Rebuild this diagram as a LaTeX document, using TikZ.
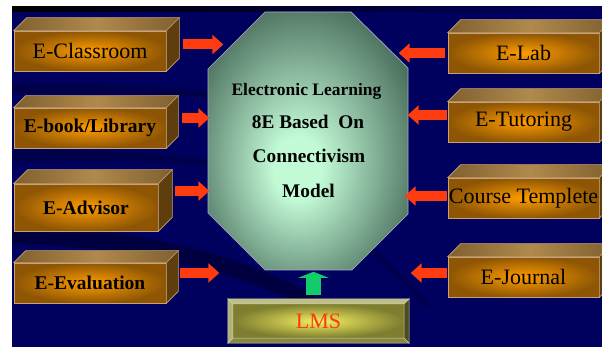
\documentclass[tikz,border=0pt]{standalone}
\usepackage{fontspec}
\setmainfont{Liberation Serif}
\usetikzlibrary{calc,arrows.meta}
\definecolor{navy}{HTML}{00005E}
\definecolor{orangein}{HTML}{FF9C00}
\definecolor{orangeout}{HTML}{8E5604}
\definecolor{edgetan}{HTML}{C8A278}
\definecolor{toplight}{HTML}{B08A4C}
\definecolor{topdark}{HTML}{806030}
\definecolor{sidebrown}{HTML}{5E3E0C}
\definecolor{arrred}{HTML}{FF3C10}
\definecolor{arrgreen}{HTML}{10CC6A}
\definecolor{octin}{HTML}{C2FAD6}
\definecolor{octout}{HTML}{4C705E}
\definecolor{octedge}{HTML}{A8AEC8}
\definecolor{lmsin}{HTML}{F4F060}
\definecolor{lmsout}{HTML}{7E7E30}
\definecolor{bevtop}{HTML}{BEBE8A}
\definecolor{bevleft}{HTML}{B2B27C}
\definecolor{bevbot}{HTML}{888840}
\definecolor{bevright}{HTML}{4C4C1E}
\definecolor{lmsred}{HTML}{FF3A10}
\pgfdeclareradialshading{octshade}{\pgfpoint{-3bp}{-6bp}}{color(0bp)=(octin); color(6bp)=(octin); color(30bp)=(octout); color(50bp)=(octout)}
\newcommand\mkbox[8][]{%
  \node[frontface,minimum width=#5pt,minimum height=#6pt,#1] (#2) at (#3,#4) {#8};
  \path[topface] (#2.north west) -- ++(#7,-#7) -- ($(#2.north east)+(#7,-#7)$) -- (#2.north east) -- cycle;
  \path[sideface] (#2.north east) -- ++(#7,-#7) -- ($(#2.south east)+(#7,-#7)$) -- (#2.south east) -- cycle;
}
\begin{document}
\begin{tikzpicture}[x=1pt,y=-1pt,
  frontface/.style={draw=edgetan, line width=0.6pt, inner color=orangein, outer color=orangeout, inner sep=0pt, text=black, font=\fontsize{22}{24}\selectfont},
  boldtxt/.style={font=\bfseries\fontsize{19.5}{22}\selectfont},
  topface/.style={draw=edgetan, line width=0.6pt, left color=topdark, right color=topdark, middle color=toplight},
  sideface/.style={draw=edgetan, line width=0.6pt, fill=sidebrown},
  redarr/.style={draw=arrred, line width=10pt, -{Triangle[width=19pt,length=11pt]}},
  greenarr/.style={draw=arrgreen, line width=15pt, -{Triangle[width=30pt,length=6pt]}},
  coretxt/.style={anchor=base, font=\bfseries\fontsize{19.3}{22}\selectfont, text=black},
  bevel/.style={draw=bevtop!70!white, line width=0.5pt}
]
\useasboundingbox (0,0) rectangle (602,347);
\clip (0,0) rectangle (602,347);
% background
\fill[white] (0,0) rectangle (602,347);
\fill[navy] (12,7) rectangle (602,347);
\shade[left color=black, right color=navy] (12,7) rectangle (602,12);
\fill[black, opacity=0.30] (12,226) .. controls (140,228) and (250,255) .. (330,305) -- (330,320) .. controls (240,268) and (130,246) .. (12,244) -- cycle;
\fill[black, opacity=0.20] (12,84) .. controls (100,82) and (170,86) .. (210,92) -- (210,98) .. controls (160,93) and (90,92) .. (12,94) -- cycle;
\fill[black, opacity=0.20] (12,150) .. controls (100,150) and (170,154) .. (210,160) -- (210,166) .. controls (160,161) and (90,160) .. (12,162) -- cycle;
\fill[black, opacity=0.18] (370,245) .. controls (390,262) and (410,282) .. (430,305) -- (424,308) .. controls (405,285) and (386,266) .. (364,250) -- cycle;

% octagon
\path[shading=octshade, draw=octedge, line width=0.7pt]
  (265,12) -- (351,12) -- (408,68) -- (408,214) -- (352,270) -- (265,270) -- (208,213) -- (208,69) -- cycle;
\node[coretxt, font=\bfseries\fontsize{17.5}{20}\selectfont] (l1) at (306.5,96) {Electronic Learning};
\node[coretxt] (l2) at (308,129) {8E Based~~On};
\node[coretxt] (l3) at (309,163) {Connectivism};
\node[coretxt] (l4) at (308.5,198) {Model};
\coordinate (core) at (308,141);

% left boxes
\mkbox{cls}{90}{51}{152}{40}{13}{E-Classroom}
\mkbox[boldtxt]{lib}{90}{128}{152}{40}{12}{E-book/Library}
\mkbox[boldtxt]{adv}{86}{207.5}{144}{47}{14}{E-Advisor}
\mkbox[boldtxt]{evl}{90}{283}{152}{40}{12}{E-Evaluation}
% right boxes
\mkbox{lab}{523.5}{53}{151}{40}{13}{E-Lab}
\mkbox{tut}{523.5}{122}{151}{40}{13}{E-Tutoring}
\mkbox{crs}{523.5}{198}{151}{40}{13}{Course Templete}
\mkbox{jrn}{523.5}{277}{151}{40}{13}{E-Journal}

% red arrows
\draw[redarr] ([shift={(17,-6.5)}]cls.east) -- ++(40,0);
\draw[redarr] ([shift={(16,-10)}]lib.east) -- ++(27,0);
\draw[redarr] ([shift={(17,-16.5)}]adv.east) -- ++(34,0);
\draw[redarr] ([shift={(14,-10)}]evl.east) -- ++(39,0);
\draw[redarr] ([shift={(-3,0)}]lab.west) -- ++(-46,0);
\draw[redarr] ([shift={(-1,-7)}]tut.west) -- ++(-39,0);
\draw[redarr] ([shift={(-1,-2)}]crs.west) -- ++(-42,0);
\draw[redarr] ([shift={(-1,-4)}]jrn.west) -- ++(-36,0);

% LMS box
\node[inner color=lmsin, outer color=lmsout, minimum width=171pt, minimum height=34pt, inner sep=0pt,
      text=lmsred, font=\fontsize{22}{24}\selectfont] (lms) at (318.5,321) {LMS};
\path[bevel, fill=bevtop] (lms.north west) -- (lms.north east) -- ++(5,-5) -- ($(lms.north west)+(-5,-5)$) -- cycle;
\path[bevel, fill=bevbot] (lms.south west) -- (lms.south east) -- ++(5,5) -- ($(lms.south west)+(-5,5)$) -- cycle;
\path[bevel, fill=bevleft] (lms.north west) -- ++(-5,-5) -- ($(lms.south west)+(-5,5)$) -- (lms.south west) -- cycle;
\path[bevel, fill=bevright] (lms.north east) -- ++(5,-5) -- ($(lms.south east)+(5,5)$) -- (lms.south east) -- cycle;
% green arrow
\draw[greenarr] ([shift={(-5,-9)}]lms.north) -- ++(0,-23);
\end{tikzpicture}
\end{document}
